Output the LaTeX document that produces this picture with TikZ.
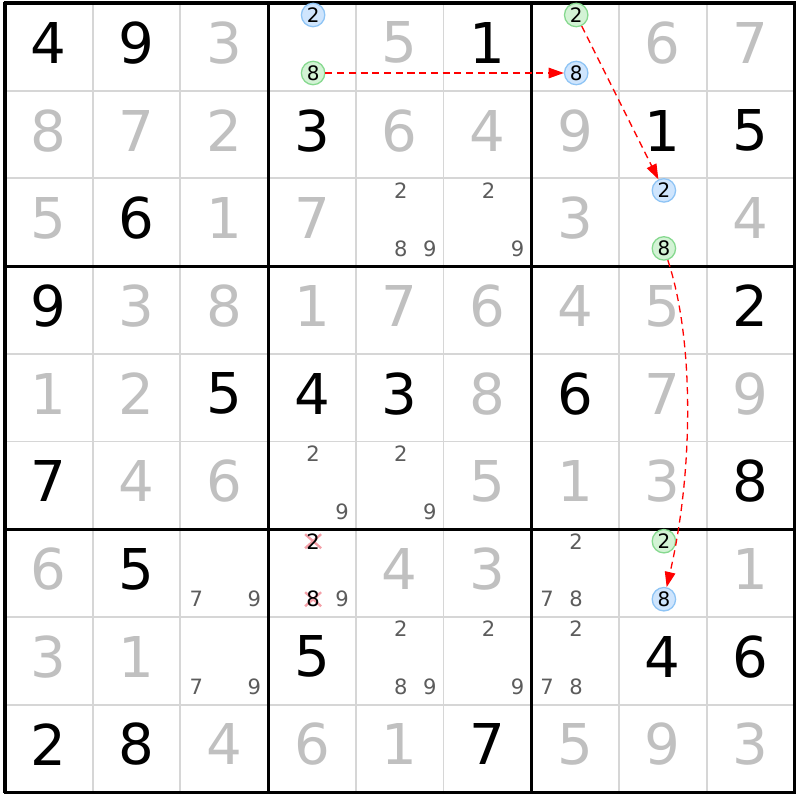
\documentclass[tikz,border=0pt]{standalone}
\usepackage{fontspec}
\setmainfont{DejaVu Sans}
\usetikzlibrary{arrows.meta}
\definecolor{solvedgray}{HTML}{C0C0C0}
\definecolor{pencilgray}{HTML}{5C5C5C}
\definecolor{thingray}{HTML}{D6D6D6}
\definecolor{bluefill}{HTML}{CFE5FD}
\definecolor{blueedge}{HTML}{8EC4F5}
\definecolor{greenfill}{HTML}{D3F3D5}
\definecolor{greenedge}{HTML}{86D98F}
\definecolor{crosspink}{HTML}{F4A0A8}
\tikzset{
    bigdigit/.style={inner sep=0pt, font=\fontsize{48}{48}\selectfont},
    given/.style={bigdigit},
    solved/.style={bigdigit, text=solvedgray},
    pencil/.style={inner sep=0pt, text=pencilgray, font=\fontsize{18}{18}\selectfont},
    chainmark/.style={circle, inner sep=0pt, minimum size=20pt, line width=1.1pt, font=\fontsize{17}{17}\selectfont},
    bluemark/.style={chainmark, draw=blueedge, fill=bluefill},
    greenmark/.style={chainmark, draw=greenedge, fill=greenfill},
    link/.style={red, line width=1.1pt, dash pattern=on 6pt off 4pt, -{Triangle[length=13pt,width=9pt]}},
    crossout/.style={crosspink, line width=2pt},
}
\begin{document}
\begin{tikzpicture}[x=0.03cm, y=-0.03cm]
    \useasboundingbox (0,0) rectangle (800,800);
    \fill[white] (0,0) rectangle (800,800);
    % thin lines
    \foreach \i in {1,...,8} {
        \draw[thingray, line width=1.6pt] ({5+\i*87.7},3) -- ({5+\i*87.7},792);
        \draw[thingray, line width=1.6pt] (5,{3+\i*87.7}) -- (794,{3+\i*87.7});
    }
    % box lines
    \foreach \i in {0,3,6,9} {
        \draw[black, line width=2.6pt] ({5+\i*87.7},1.5) -- ({5+\i*87.7},792.5);
        \draw[black, line width=2.6pt] (3.5,{3+\i*87.7}) -- (795.5,{3+\i*87.7});
    }
    % given digits
    \foreach \row [count=\r] in {
        {4,9,0,0,0,1,0,0,0}, {0,0,0,3,0,0,0,1,5}, {0,6,0,0,0,0,0,0,0},
        {9,0,0,0,0,0,0,0,2}, {0,0,5,4,3,0,6,0,0}, {7,0,0,0,0,0,0,0,8},
        {0,5,0,0,0,0,0,0,0}, {0,0,0,5,0,0,0,4,6}, {2,8,0,0,0,7,0,0,0}} {
        \foreach \d [count=\c] in \row {
            \ifnum\d>0
                \node[given] (g\r\c) at ({5+(\c-0.5)*87.7},{3+(\r-0.5)*87.7-4}) {\d};
            \fi
        }
    }
    % solved digits
    \foreach \row [count=\r] in {
        {0,0,3,0,5,0,0,6,7}, {8,7,2,0,6,4,9,0,0}, {5,0,1,7,0,0,3,0,4},
        {0,3,8,1,7,6,4,5,0}, {1,2,0,0,0,8,0,7,9}, {0,4,6,0,0,5,1,3,0},
        {6,0,0,0,4,3,0,0,1}, {3,1,0,0,0,0,0,0,0}, {0,0,4,6,1,0,5,9,3}} {
        \foreach \d [count=\c] in \row {
            \ifnum\d>0
                \node[solved] (s\r\c) at ({5+(\c-0.5)*87.7},{3+(\r-0.5)*87.7-4}) {\d};
            \fi
        }
    }
    % pencil marks
    \foreach \r/\c/\d in {3/5/2, 3/5/8, 3/5/9, 3/6/2, 3/6/9, 6/4/2, 6/4/9, 6/5/2, 6/5/9,
        7/3/7, 7/3/9, 7/4/9, 7/7/2, 7/7/7, 7/7/8, 8/3/7, 8/3/9, 8/5/2, 8/5/8, 8/5/9,
        8/6/2, 8/6/9, 8/7/2, 8/7/7, 8/7/8} {
        \pgfmathsetmacro\px{5+(\c-1)*87.7+1.5+(mod(\d-1,3)+0.5)*29}
        \pgfmathsetmacro\py{3+(\r-1)*87.7-2.5+(floor((\d-1)/3)+0.5)*29}
        \node[pencil] (p\r\c\d) at (\px,\py) {\d};
    }
    % removed candidates
    \foreach \d in {2,8} {
        \pgfmathsetmacro\px{5+3*87.7+1.5+1.5*29}
        \pgfmathsetmacro\py{3+6*87.7-2.5+(floor((\d-1)/3)+0.5)*29}
        \draw[crossout] (\px-8,\py-7) -- (\px+8,\py+7);
        \draw[crossout] (\px-8,\py+7) -- (\px+8,\py-7);
        \node[pencil, text=black] (x74\d) at (\px,\py) {\d};
    }
    % chain candidates
    \foreach \r/\c/\d/\s in {1/4/2/bluemark, 1/4/8/greenmark, 1/7/2/greenmark, 1/7/8/bluemark,
        3/8/2/bluemark, 3/8/8/greenmark, 7/8/2/greenmark, 7/8/8/bluemark} {
        \pgfmathsetmacro\px{5+(\c-1)*87.7+1.5+(mod(\d-1,3)+0.5)*29}
        \pgfmathsetmacro\py{3+(\r-1)*87.7-2.5+(floor((\d-1)/3)+0.5)*29}
        \node[\s] (c\r\c\d) at (\px,\py) {\d};
    }
    % links
    \draw[link] (c148) -- (c178);
    \draw[link] (c172) -- (c382);
    \draw[link] (c388) .. controls +(30,90) and +(30,-130) .. (c788);
\end{tikzpicture}
\end{document}
